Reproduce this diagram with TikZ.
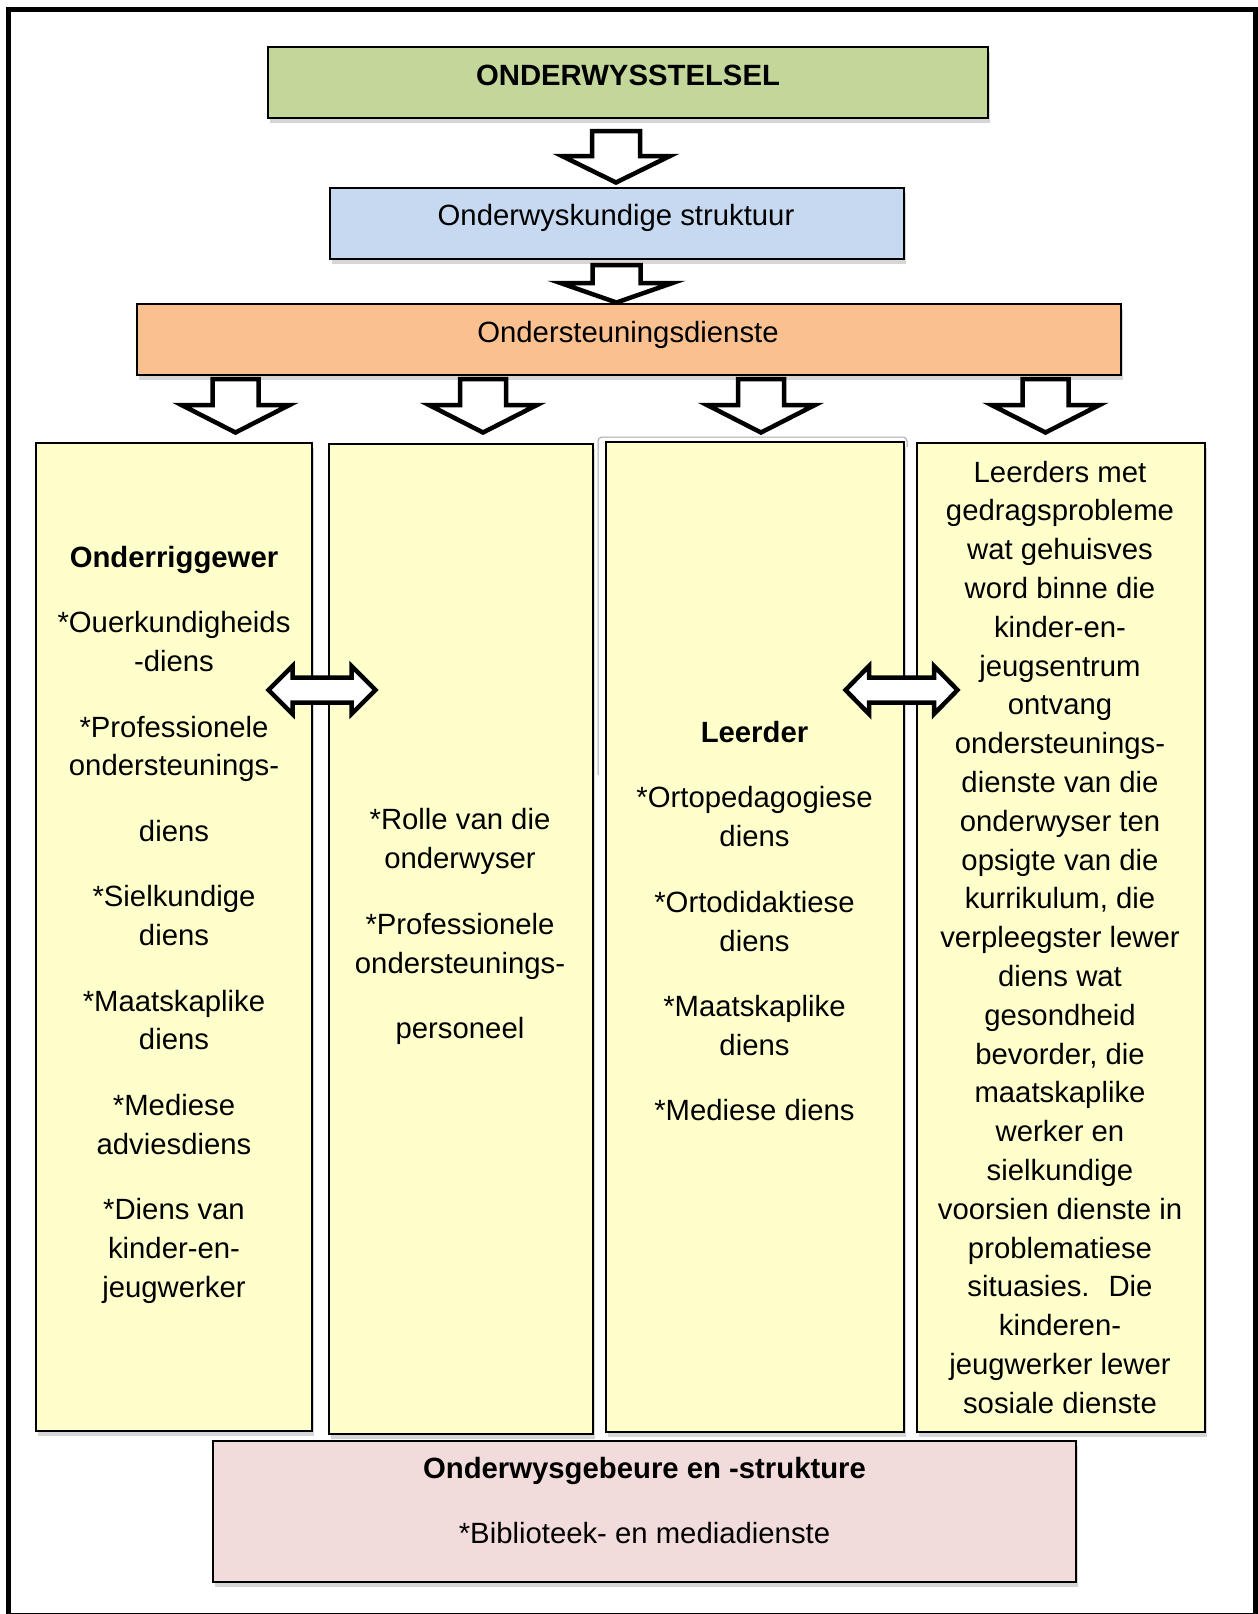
\documentclass[tikz,border=0pt]{standalone}
\usepackage{fontspec}
\setmainfont{Liberation Sans}
\usetikzlibrary{calc,shadows}

\definecolor{boxgreen}{RGB}{196,215,155}
\definecolor{boxblue}{RGB}{198,217,241}
\definecolor{boxorange}{RGB}{250,192,144}
\definecolor{boxyellow}{RGB}{255,255,204}
\definecolor{boxpink}{RGB}{242,220,219}

\tikzset{
  panel/.style={draw=black, line width=2pt, inner sep=0pt, outer sep=0pt,
    drop shadow={shadow xshift=2pt, shadow yshift=-5pt, fill=black!40, opacity=0.4}},
  txt/.style={inner sep=0pt, outer sep=0pt, align=center,
    font=\fontsize{29.3}{38.8}\selectfont},
  hd/.style={txt, font=\fontsize{29.3}{38.8}\selectfont\bfseries},
  blockarrow/.style={draw=black, fill=white, line width=4.5pt,
    line join=miter, miter limit=10},
}

% hollow arrow pointing down: #1 start, #2 tip, #3 head length,
% #4 half shaft width, #5 half head width
\newcommand\blockdown[5]{%
  \draw[blockarrow] let \p1=(#1), \p2=(#2) in
    (\x1-#4,\y1) -- (\x1-#4,\y2+#3) -- (\x1-#5,\y2+#3) -- (\x2,\y2)
    -- (\x1+#5,\y2+#3) -- (\x1+#4,\y2+#3) -- (\x1+#4,\y1) -- cycle;}

% hollow double-headed horizontal arrow: #1 left tip, #2 right tip,
% #3 head length, #4 half shaft height, #5 half head height
\newcommand\blockboth[5]{%
  \draw[blockarrow] let \p1=(#1), \p2=(#2) in
    (\x1,\y1) -- (\x1+#3,\y1+#5) -- (\x1+#3,\y1+#4) -- (\x2-#3,\y1+#4)
    -- (\x2-#3,\y1+#5) -- (\x2,\y2) -- (\x2-#3,\y1-#5) -- (\x2-#3,\y1-#4)
    -- (\x1+#3,\y1-#4) -- (\x1+#3,\y1-#5) -- cycle;}

\begin{document}
\begin{tikzpicture}[x=1pt,y=-1pt]
\useasboundingbox (0,0) rectangle (1258,1614);
\fill[white] (0,0) rectangle (1258,1614);

% outer frame
\draw[line width=5pt] (8.5,9.5) rectangle (1255.5,1615.5);

% top hierarchy
\node[panel, fill=boxgreen, minimum width=720pt, minimum height=71pt] (sys) at (628,82.5) {};
\node[hd, anchor=base] (sysT) at (628,85.5) {ONDERWYSSTELSEL};

\node[panel, fill=boxblue, minimum width=574pt, minimum height=71pt] (struct) at (617,223.5) {};
\node[txt, anchor=base] (structT) at (616,225.5) {Onderwyskundige struktuur};

\node[panel, fill=boxorange, minimum width=984pt, minimum height=71pt] (support) at (629,339.5) {};
\node[txt, anchor=base] (supportT) at (628,342) {Ondersteuningsdienste};

% faint outline behind the third column
\draw[black!35, line width=1pt, rounded corners=4pt]
  (598,775) -- (598,437) -- (907,437) -- (907,447);

% columns
\node[panel, fill=boxyellow, minimum width=276pt, minimum height=988pt] (colA) at (174,937) {};
\node[panel, fill=boxyellow, minimum width=264pt, minimum height=990pt] (colB) at (461,939) {};
\node[panel, fill=boxyellow, minimum width=298pt, minimum height=990pt] (colC) at (755,937) {};
\node[panel, fill=boxyellow, minimum width=288pt, minimum height=989pt] (colD) at (1061,937.5) {};

\node[txt, anchor=north] (colAT) at (174,546) {%
  {\bfseries Onderriggewer}\\[26.7pt]
  *Ouerkundigheids\\
  -diens\\[26.7pt]
  *Professionele\\
  ondersteunings-\\[26.7pt]
  diens\\[26.7pt]
  *Sielkundige\\
  diens\\[26.7pt]
  *Maatskaplike\\
  diens\\[26.7pt]
  *Mediese\\
  adviesdiens\\[26.7pt]
  *Diens van\\
  kinder-en-\\
  jeugwerker};

\node[txt, anchor=north] (colBT) at (460,808.7) {%
  *Rolle van die\\
  onderwyser\\[26.7pt]
  *Professionele\\
  ondersteunings-\\[26.7pt]
  personeel};

\node[txt, anchor=north] (colCT) at (754.5,721.2) {%
  {\bfseries Leerder}\\[26.7pt]
  *Ortopedagogiese\\
  diens\\[26.7pt]
  *Ortodidaktiese\\
  diens\\[26.7pt]
  *Maatskaplike\\
  diens\\[26.7pt]
  *Mediese diens};

\node[txt, anchor=north] (colDT) at (1060,460.8) {%
  Leerders met\\
  gedragsprobleme\\
  wat gehuisves\\
  word binne die\\
  kinder-en-\\
  jeugsentrum\\
  ontvang\\
  ondersteunings-\\
  dienste van die\\
  onderwyser ten\\
  opsigte van die\\
  kurrikulum, die\\
  verpleegster lewer\\
  diens wat\\
  gesondheid\\
  bevorder, die\\
  maatskaplike\\
  werker en\\
  sielkundige\\
  voorsien dienste in\\
  problematiese\\
  situasies.~ Die\\
  kinderen-\\
  jeugwerker lewer\\
  sosiale dienste};

% bottom box
\node[panel, fill=boxpink, minimum width=863pt, minimum height=141pt] (events) at (644.5,1511.5) {};
\node[hd, anchor=base] (eventsT) at (644.5,1478.5) {Onderwysgebeure en -strukture};
\node[txt, anchor=base] (eventsS) at (644.5,1543.5) {*Biblioteek- en mediadienste};

% arrow end points
\coordinate (d1s) at (616,131);   \coordinate (d1e) at (616,182.5);
\coordinate (d2s) at (616.5,265); \coordinate (d2e) at (616.5,302.5);
\coordinate (d3s) at (235.5,379); \coordinate (d3e) at (235.5,432.5);
\coordinate (d4s) at (483,379);   \coordinate (d4e) at (483,432.5);
\coordinate (d5s) at (761,379);   \coordinate (d5e) at (761,432.5);
\coordinate (d6s) at (1045.5,379);\coordinate (d6e) at (1045.5,432.5);
\coordinate (h1l) at (268.5,690); \coordinate (h1r) at (375.5,690);
\coordinate (h2l) at (845.5,690); \coordinate (h2r) at (957.5,690);

% arrows
\blockdown{d1s}{d1e}{26.5pt}{24pt}{54pt}
\blockdown{d2s}{d2e}{19.5pt}{24pt}{56pt}
\blockdown{d3s}{d3e}{27.5pt}{23pt}{54pt}
\blockdown{d4s}{d4e}{27.5pt}{23pt}{54pt}
\blockdown{d5s}{d5e}{27.5pt}{23pt}{54pt}
\blockdown{d6s}{d6e}{27.5pt}{23pt}{54pt}
\blockboth{h1l}{h1r}{24pt}{12.5pt}{24pt}
\blockboth{h2l}{h2r}{23.5pt}{12.5pt}{24pt}
\end{tikzpicture}
\end{document}
